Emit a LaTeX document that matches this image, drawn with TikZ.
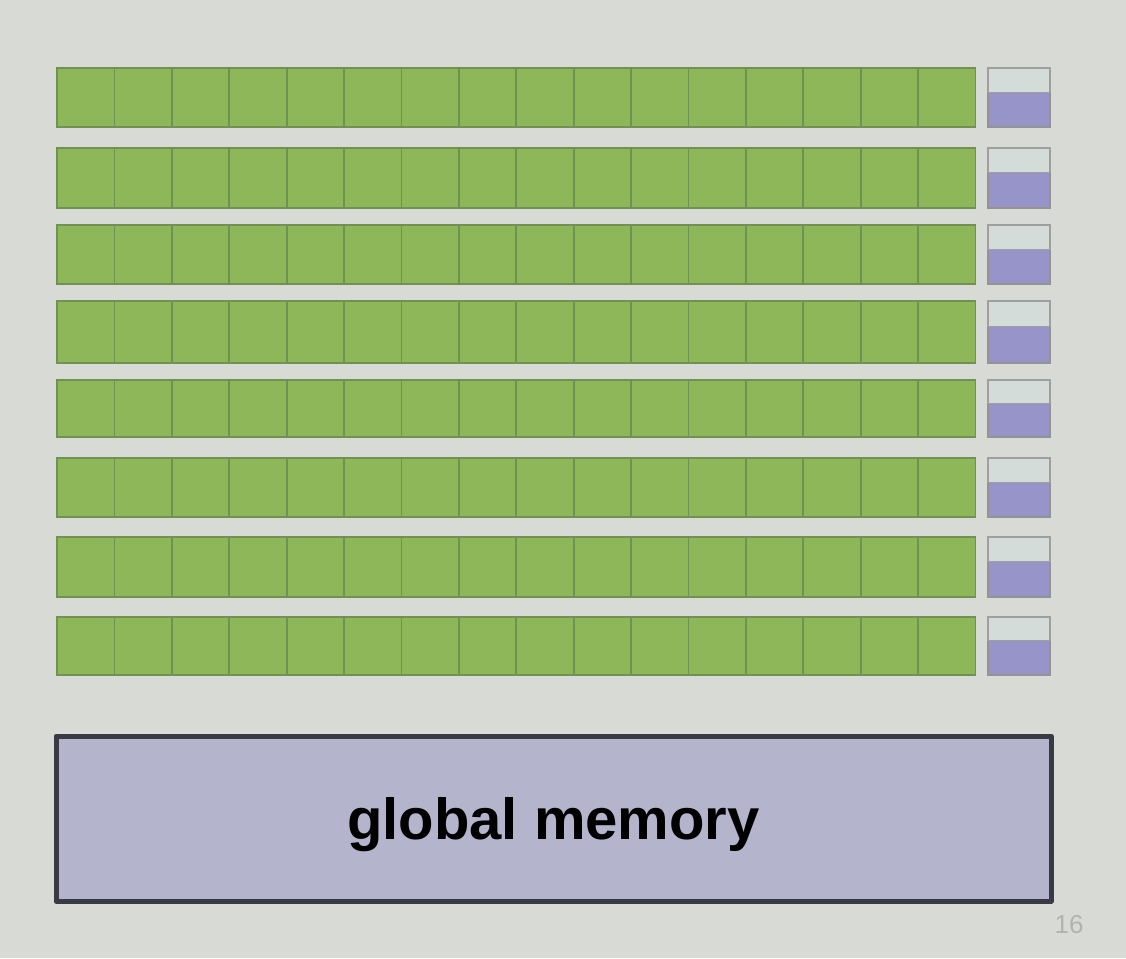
\documentclass[tikz,border=0pt]{standalone}
\usepackage{fontspec}
\setmainfont{Liberation Sans}
\usetikzlibrary{
  calc % For coordinate calculations
}

\definecolor{bgcol}{RGB}{216,218,214}
\definecolor{corecol}{RGB}{141,183,88}
\definecolor{coreline}{RGB}{112,145,82}
\definecolor{cachecol}{RGB}{212,220,218}
\definecolor{sharedcol}{RGB}{150,148,201}
\definecolor{memcol}{RGB}{180,181,204}
\definecolor{memline}{RGB}{58,58,68}

\begin{document}
\begin{tikzpicture}[
      x=1pt, y=-1pt, % pixel units, y downwards
      core/.style={fill=corecol, draw=coreline, line width=1.8pt}, % green cell
      cache/.style={fill=cachecol, draw=gray!75, line width=1.2pt}, % upper half of the small box
      shared/.style={fill=sharedcol, draw=gray!85, line width=1.2pt}, % lower half of the small box
      memory/.style={fill=memcol, draw=memline, line width=5pt, line join=round},
    ]

    % Hintergrund
    \fill[bgcol] (0,0) rectangle (1126,958);
    \useasboundingbox (0,0) rectangle (1126,958);

    % Größen
    \def\xl{57}
    \def\cw{57.4}
    \def\bx{988}
    \def\bw{62}

    % Zeilen: oben/unten
    \foreach \t/\b [count=\r] in {68/127, 148/208, 225/284, 301/363,
                                 380/437, 458/517, 537/597, 617/675}
    {
      \foreach \i in {0,...,15}
        \draw[core] ({\xl+\i*\cw},\t) rectangle ({\xl+(\i+1)*\cw},\b);
      \coordinate (m\r) at (\bx,{\t+0.41*(\b-\t)});
      \draw[shared] (m\r) rectangle ({\bx+\bw},\b);
      \draw[cache] (\bx,\t) rectangle ($(m\r)+(\bw,0)$);
    }

    % Globaler Speicher
    \node[memory, minimum width=995pt, minimum height=165pt, inner sep=0pt] (gmem) at (553.5,818.5) {};
    \node[font=\fontsize{58}{58}\selectfont\bfseries, anchor=base] (gtext) at ($(gmem.center)+(0,21)$) {global memory};

    % Seitenzahl
    \node[text=gray!60, font=\fontsize{26}{26}\selectfont, anchor=base] (page) at (1069,933) {16};

  \end{tikzpicture}
\end{document}
